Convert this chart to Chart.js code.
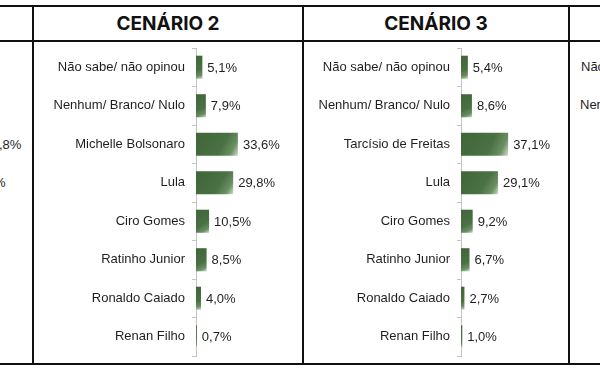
<!DOCTYPE html>
<html>
<head>
<meta charset="utf-8">
<script src="https://cdn.jsdelivr.net/npm/chart.js@4"></script>
<style>
  body { margin: 0; background: #fff; }
  #page { position: relative; width: 600px; height: 370px; overflow: hidden; background: #fff;
          font-family: "Liberation Sans", Arial, sans-serif; color: #1f1f1f; }
  .hline { position: absolute; left: 0; width: 600px; height: 2px; background: #111; }
  .vline { position: absolute; top: 6px; width: 2px; height: 359px; background: #111; }
  .head { position: absolute; top: 7px; height: 34px; line-height: 34px; text-align: center;
          font-family: Inter, "Open Sans", sans-serif; font-weight: 700; font-size: 19px; color: #111; }
  .frag { position: absolute; font-size: 13px; white-space: nowrap; line-height: 16px; }
  .cell { position: absolute; top: 42px; height: 321px; }
</style>
</head>
<body>
<div id="page">
  <div class="hline" style="top:5px"></div>
  <div class="hline" style="top:40px"></div>
  <div class="hline" style="top:363px"></div>
  <div class="vline" style="left:32px"></div>
  <div class="vline" style="left:302px"></div>
  <div class="vline" style="left:568px"></div>

  <div class="head" style="left:34px;width:268px">CENÁRIO 2</div>
  <div class="head" style="left:304px;width:264px">CENÁRIO 3</div>

  <!-- cut-off neighbours of the table -->
  <div class="frag" style="left:-1px;top:137px">,8%</div>
  <div class="frag" style="left:-6px;top:175px">%</div>
  <div class="frag" style="left:581px;top:59px">Não sabe/ não opinou</div>
  <div class="frag" style="left:580px;top:97px">Nenhum/ Branco/ Nulo</div>

  <div class="cell" style="left:34px;width:268px"><canvas id="chart2" width="268" height="321"></canvas></div>
  <div class="cell" style="left:304px;width:265px"><canvas id="chart3" width="265" height="321"></canvas></div>
</div>

<script>
"use strict"

const categories2 = ['Não sabe/ não opinou', 'Nenhum/ Branco/ Nulo', 'Michelle Bolsonaro', 'Lula',
    'Ciro Gomes', 'Ratinho Junior', 'Ronaldo Caiado', 'Renan Filho']
const values2 = [5.1, 7.9, 33.6, 29.8, 10.5, 8.5, 4.0, 0.7]

const categories3 = ['Não sabe/ não opinou', 'Nenhum/ Branco/ Nulo', 'Tarcísio de Freitas', 'Lula',
    'Ciro Gomes', 'Ratinho Junior', 'Ronaldo Caiado', 'Renan Filho']
const values3 = [5.4, 8.6, 37.1, 29.1, 9.2, 6.7, 2.7, 1.0]

const labelFont = '13px "Liberation Sans", Arial, sans-serif'

let fmt = v => v.toFixed(1).replace('.', ',') + '%'

// dark green bar with the light sheen in the lower right corner
let barFill = function(ctx) {
    let chart = ctx.chart
    let xs = chart.scales.x, ys = chart.scales.y
    if (ctx.type !== 'data' || !xs || !ys) return '#476d40'
    let x0 = xs.getPixelForValue(0)
    let x1 = xs.getPixelForValue(ctx.raw)
    let yc = ys.getPixelForValue(ctx.dataIndex)
    if (![x0, x1, yc].every(Number.isFinite)) return '#476d40'
    let g = chart.ctx.createLinearGradient(x0, yc - 12, x1 + 1, yc + 12)
    g.addColorStop(0, '#3f6538')
    g.addColorStop(0.6, '#4a7143')
    g.addColorStop(0.82, '#6a8f63')
    g.addColorStop(1, '#dfe9dc')
    return g
}

const valueLabels = {
    id: 'valueLabels',
    afterDatasetsDraw(chart) {
        let c = chart.ctx
        let data = chart.data.datasets[0].data
        c.save()
        c.font = labelFont
        c.fillStyle = '#1f1f1f'
        c.textBaseline = 'middle'
        c.textAlign = 'left'
        chart.getDatasetMeta(0).data.forEach((bar, i) => {
            c.fillText(fmt(data[i]), bar.x + 5, bar.y + 1)
        })
        c.restore()
    }
}

let drawScenario = function(id, categories, values, axisWidth) {
    let ctx = document.getElementById(id).getContext('2d')
    let chart = new Chart(ctx, {
        type: 'bar',
        data: {
            labels: categories,
            datasets: [{
                data: values,
                backgroundColor: barFill,
                borderWidth: 0,
                barPercentage: 0.6,
                categoryPercentage: 1
            }]
        },
        options: {
            indexAxis: 'y',
            responsive: false,
            animation: false,
            devicePixelRatio: 1,
            layout: { padding: { top: 6, bottom: 7, left: 0, right: 0 } },
            plugins: { legend: { display: false }, tooltip: { enabled: false } },
            scales: {
                x: { display: false, min: 0, max: 85 },
                y: {
                    afterFit: scale => {
                        scale.width = axisWidth
                        scale.paddingTop = 0
                        scale.paddingBottom = 0
                    },
                    border: { display: true, color: '#c4c4c4', width: 1 },
                    grid: { drawOnChartArea: false, offset: true, tickLength: 4, color: '#c4c4c4' },
                    ticks: {
                        padding: 7,
                        color: '#1f1f1f',
                        font: { family: '"Liberation Sans", Arial, sans-serif', size: 13 }
                    }
                }
            }
        },
        plugins: [valueLabels]
    })
    // second pass so the gradients are built on laid-out scales
    chart.update('none')
    return chart
}

drawScenario('chart2', categories2, values2, 162)
drawScenario('chart3', categories3, values3, 157)
</script>
</body>
</html>
